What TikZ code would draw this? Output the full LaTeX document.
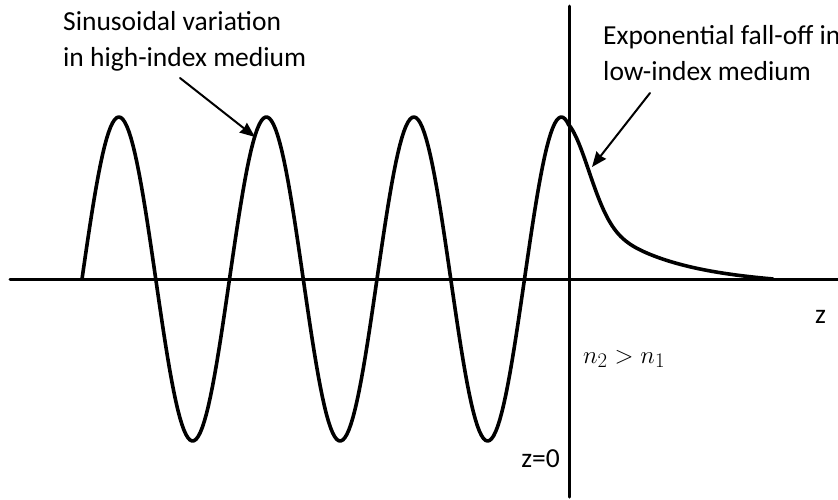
\documentclass[tikz,border=0pt]{standalone}
\usepackage{fontspec}
\setmainfont{Carlito}
\usetikzlibrary{arrows.meta}

\begin{document}
\begin{tikzpicture}[x=1pt, y=-1pt, line cap=round,
  axis/.style={line width=3pt},
  wave/.style={line width=3.6pt, line join=round},
  pointer/.style={line width=2pt, -{Stealth[length=15pt, width=12pt, inset=1pt]}},
  lbl/.style={inner sep=0pt, align=left, font=\fontsize{27.5}{36}\selectfont}]
  \useasboundingbox (0,0) rectangle (838,499);

  % Axes
  \coordinate (zleft) at (10,279);
  \coordinate (zright) at (838,279);
  \coordinate (itop) at (569,6);
  \coordinate (ibot) at (569,497);
  \draw[axis] (zleft) -- (zright);
  \draw[axis] (itop) -- (ibot);

  % Field: sine in the core (period 147.5), decaying tail past z=0
  \draw[wave] plot[domain=82:569, samples=240, variable=\x] (\x, {279 - 162*sin((\x-82)*2.44068)})
    -- plot[domain=0:204, samples=120, variable=\x] ({569+\x}, {279 - (70*exp(-(\x/30)^2) + 84*exp(-\x/70) - 0.0223*\x)});

  % Labels
  \node[lbl, anchor=north west] (sinlbl) at (63,11) {Sinusoidal variation\\in high-index medium};
  \node[lbl, anchor=north west] (explbl) at (603,25) {Exponential fall-off in\\low-index medium};
  \node[lbl, anchor=base west] (zlbl) at (815,323) {z};
  \node[lbl, anchor=base east] (zerolbl) at (560,467) {z=0};
  \node[inner sep=0pt, anchor=base west, font=\fontsize{29}{34}\selectfont] (idxlbl) at (583,363) {$n_2 > n_1$};

  % Pointers
  \coordinate (sintail) at (180,78);
  \coordinate (sintip) at (255,137);
  \coordinate (exptail) at (650,93);
  \coordinate (exptip) at (592,167);
  \draw[pointer] (sintail) -- (sintip);
  \draw[pointer] (exptail) -- (exptip);
\end{tikzpicture}
\end{document}
